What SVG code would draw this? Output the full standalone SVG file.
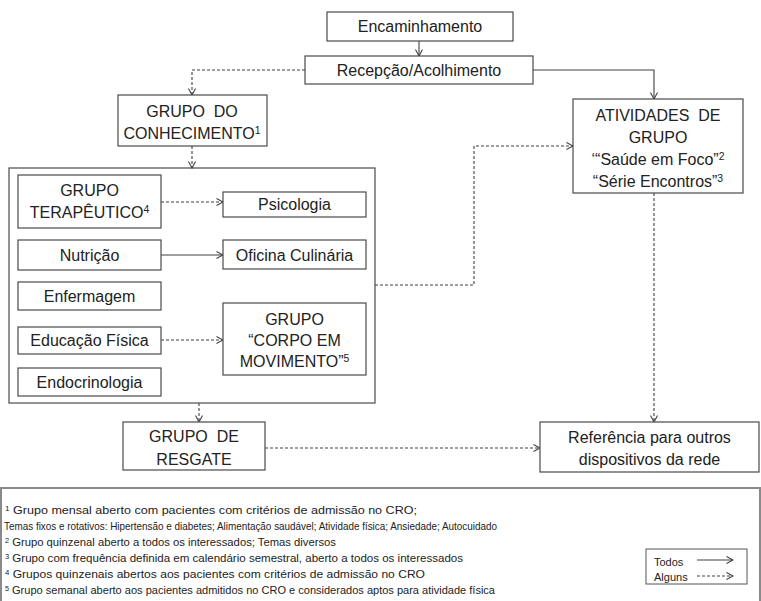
<svg xmlns="http://www.w3.org/2000/svg" width="761" height="601" viewBox="0 0 761 601">
<style>
  .box { fill: #ffffff; stroke: #4a4a4a; stroke-width: 1.2; }
  .big { fill: none; stroke: #4a4a4a; stroke-width: 1.2; }
  .t { font-family: "Liberation Sans", Arial, sans-serif; font-size: 16px; fill: #222222; text-anchor: middle; }
  .fn { font-family: "Liberation Sans", Arial, sans-serif; font-size: 10.5px; fill: #222222; }
  .lg { font-family: "Liberation Sans", Arial, sans-serif; font-size: 11px; fill: #222222; }
  .sup { font-size: 65%; baseline-shift: super; }
  .solid { fill: none; stroke: #404040; stroke-width: 1.1; }
  .dash { fill: none; stroke: #404040; stroke-width: 1.1; stroke-dasharray: 3 2; }
</style>
<defs>
  <marker id="arr" viewBox="0 0 8 8" refX="7" refY="4" markerWidth="8" markerHeight="8" markerUnits="userSpaceOnUse" orient="auto">
    <path d="M0.5,0.5 L7,4 L0.5,7.5" fill="none" stroke="#404040" stroke-width="1.1" stroke-dasharray="none"/>
  </marker>
</defs>
<rect width="761" height="601" fill="#ffffff"/>

<g id="connectors">
  <path class="solid" d="M419,41 L419,56" marker-end="url(#arr)"/>
  <path class="solid" d="M533,70 L654,70 L654,99" marker-end="url(#arr)"/>
  <path class="dash" d="M305,70 L192,70 L192,95" marker-end="url(#arr)"/>
  <path class="dash" d="M192,146 L192,168" marker-end="url(#arr)"/>
  <path class="dash" d="M161,202 L223,202" marker-end="url(#arr)"/>
  <path class="solid" d="M161,255 L223,255" marker-end="url(#arr)"/>
  <path class="dash" d="M161,340 L223,340" marker-end="url(#arr)"/>
  <path class="dash" d="M375,285 L474,285 L474,146 L573,146" marker-end="url(#arr)"/>
  <path class="dash" d="M654,193 L654,422" marker-end="url(#arr)"/>
  <path class="dash" d="M199,403 L199,422" marker-end="url(#arr)"/>
  <path class="dash" d="M265,448 L540,448" marker-end="url(#arr)"/>
</g>

<g id="encaminhamento">
  <rect class="box" x="327" y="12" width="186" height="29"/>
  <text class="t" x="420" y="32">Encaminhamento</text>
</g>
<g id="recepcao">
  <rect class="box" x="305" y="56" width="228" height="28"/>
  <text class="t" x="419" y="76">Recepção/Acolhimento</text>
</g>
<g id="grupo-conhecimento">
  <rect class="box" x="118" y="95" width="149" height="51"/>
  <text class="t" x="192" y="117" xml:space="preserve">GRUPO  DO</text>
  <text class="t" x="192" y="139">CONHECIMENTO<tspan class="sup">1</tspan></text>
</g>
<g id="servicos">
  <rect class="big" x="9" y="168" width="366" height="235"/>
</g>
<g id="grupo-terapeutico">
  <rect class="box" x="18" y="175" width="143" height="53"/>
  <text class="t" x="89.5" y="196">GRUPO</text>
  <text class="t" x="89.5" y="218">TERAPÊUTICO<tspan class="sup">4</tspan></text>
</g>
<g id="psicologia">
  <rect class="box" x="223" y="192" width="143" height="25"/>
  <text class="t" x="294.5" y="210">Psicologia</text>
</g>
<g id="nutricao">
  <rect class="box" x="18" y="240" width="143" height="30"/>
  <text class="t" x="89.5" y="260.5">Nutrição</text>
</g>
<g id="oficina">
  <rect class="box" x="223" y="240" width="143" height="29"/>
  <text class="t" x="294.5" y="260.5">Oficina Culinária</text>
</g>
<g id="enfermagem">
  <rect class="box" x="18" y="282" width="143" height="28"/>
  <text class="t" x="89.5" y="302">Enfermagem</text>
</g>
<g id="corpo-movimento">
  <rect class="box" x="223" y="303" width="143" height="72"/>
  <text class="t" x="294.5" y="325">GRUPO</text>
  <text class="t" x="294.5" y="346">“CORPO EM</text>
  <text class="t" x="294.5" y="367">MOVIMENTO”<tspan class="sup">5</tspan></text>
</g>
<g id="educacao-fisica">
  <rect class="box" x="18" y="327" width="143" height="27"/>
  <text class="t" x="89.5" y="346">Educação Física</text>
</g>
<g id="endocrinologia">
  <rect class="box" x="18" y="368" width="143" height="28"/>
  <text class="t" x="89.5" y="388">Endocrinologia</text>
</g>
<g id="atividades-grupo">
  <rect class="box" x="573" y="99" width="170" height="94"/>
  <text class="t" x="658" y="121" xml:space="preserve">ATIVIDADES  DE</text>
  <text class="t" x="658" y="143">GRUPO</text>
  <text class="t" x="658" y="165">‘“Saúde em Foco”<tspan class="sup">2</tspan></text>
  <text class="t" x="658" y="187">“Série Encontros”<tspan class="sup">3</tspan></text>
</g>
<g id="grupo-resgate">
  <rect class="box" x="123" y="422" width="142" height="48"/>
  <text class="t" x="194" y="442" xml:space="preserve">GRUPO  DE</text>
  <text class="t" x="194" y="465">RESGATE</text>
</g>
<g id="referencia">
  <rect class="box" x="540" y="422" width="219" height="50"/>
  <text class="t" x="649.5" y="443">Referência para outros</text>
  <text class="t" x="649.5" y="465">dispositivos da rede</text>
</g>

<g id="notas">
  <rect x="1" y="488" width="759" height="116" fill="none" stroke="#8a8a8a" stroke-width="2"/>
  <text class="fn" x="5" y="514" textLength="412" lengthAdjust="spacingAndGlyphs"><tspan class="sup">1</tspan> Grupo mensal aberto com pacientes com critérios de admissão no CRO;</text>
  <text class="fn" x="4" y="530" textLength="493" lengthAdjust="spacingAndGlyphs">Temas fixos e rotativos: Hipertensão e diabetes; Alimentação saudável; Atividade física; Ansiedade; Autocuidado</text>
  <text class="fn" x="5" y="546" textLength="331" lengthAdjust="spacingAndGlyphs"><tspan class="sup">2</tspan> Grupo quinzenal aberto a todos os interessados; Temas diversos</text>
  <text class="fn" x="5" y="562" textLength="458" lengthAdjust="spacingAndGlyphs"><tspan class="sup">3</tspan> Grupo com frequência definida em calendário semestral, aberto a todos os interessados</text>
  <text class="fn" x="5" y="578" textLength="420" lengthAdjust="spacingAndGlyphs"><tspan class="sup">4</tspan> Grupos quinzenais abertos aos pacientes com critérios de admissão no CRO</text>
  <text class="fn" x="5" y="594" textLength="490" lengthAdjust="spacingAndGlyphs"><tspan class="sup">5</tspan> Grupo semanal aberto aos pacientes admitidos no CRO e considerados aptos para atividade física</text>
</g>

<g id="legenda">
  <rect x="646" y="549" width="101" height="35" fill="#ffffff" stroke="#555555" stroke-width="1"/>
  <text class="lg" x="654" y="566">Todos</text>
  <text class="lg" x="654" y="581">Alguns</text>
  <path class="solid" d="M697,560 L733,560" marker-end="url(#arr)"/>
  <path class="dash" d="M697,576 L733,576" marker-end="url(#arr)"/>
</g>
</svg>
